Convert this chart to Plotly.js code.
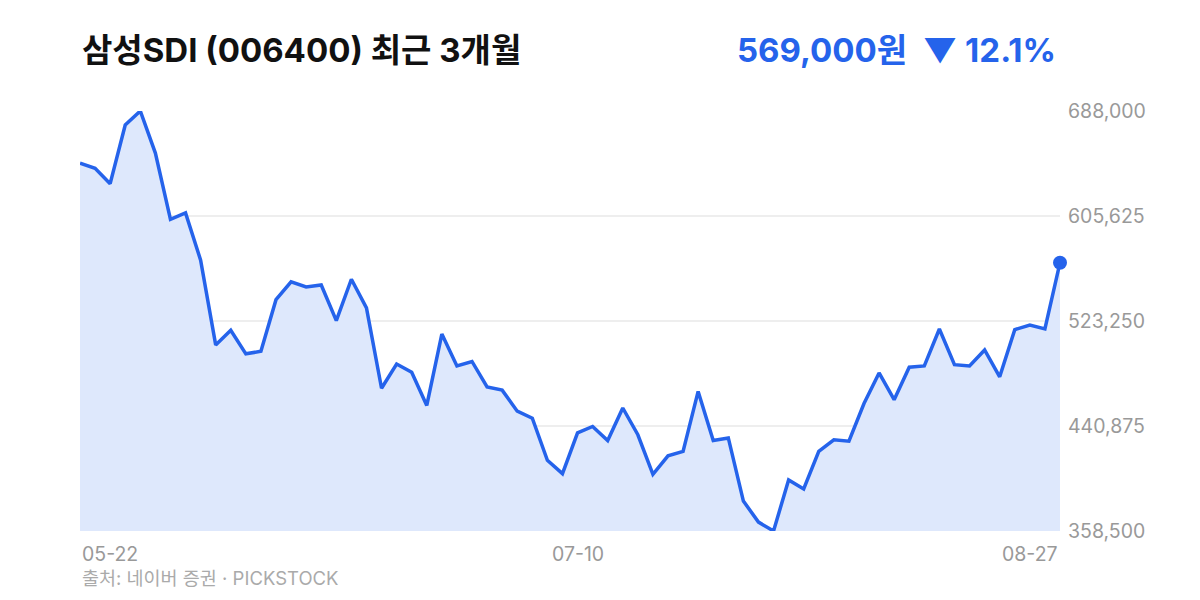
<!DOCTYPE html>
<html>
<head>
<meta charset="utf-8">
<script src="https://cdn.plot.ly/plotly-3.0.1.min.js"></script>
<style>
  html, body { margin: 0; padding: 0; background: #fff; }
  #chart { width: 1200px; height: 600px; }
</style>
</head>
<body>
<div id="chart"></div>
<script>
// Trading-day index (66 sessions, 05-22 .. 08-27)
const prices = [
  647000, 643000, 631000, 677000, 688000, 655000, 603000, 608000, 571000, 504500,
  516000, 497500, 499500, 540000, 554000, 550000, 551500, 523500, 556000, 533500,
  470500, 489500, 483000, 457000, 513000, 488000, 491500, 471500, 469000, 452500,
  447000, 414000, 403500, 435500, 440500, 429500, 455000, 434000, 403000, 417500,
  421000, 468000, 429500, 431500, 382000, 365500, 358500, 398500, 391500, 421000,
  430000, 429000, 458500, 482500, 461500, 487000, 488000, 517000, 489000, 488000,
  500500, 479500, 516500, 520000, 517000, 569000
];
const xLabels = ["05-22", "07-10", "08-27"];
const xLabelIdx = [0, 33, 65];
const yTicks = [358500, 440875, 523250, 605625, 688000];
const titleText = "삼성SDI (006400) 최근 3개월";
const priceText = "569,000원&nbsp;&nbsp;▼ 12.1%";
const sourceText = "출처: 네이버 증권 · PICKSTOCK";

const idx = prices.map((_, i) => i);
const FONT = "Inter, 'Noto Sans CJK KR', sans-serif";
const BLUE = "#2563EB";

const traces = [
  {
    x: idx, y: prices, type: "scatter", mode: "lines",
    line: { color: BLUE, width: 3.5 },
    fill: "tozeroy", fillcolor: "#DEE8FC",
    hoverinfo: "skip"
  },
  {
    x: [idx[idx.length - 1]], y: [prices[prices.length - 1]],
    type: "scatter", mode: "markers",
    marker: { color: BLUE, size: 14 },
    hoverinfo: "skip", cliponaxis: false
  }
];

const annotations = [
  { xref: "paper", yref: "paper", x: 0, y: 1.145, xanchor: "left", yanchor: "middle",
    text: "<b>" + titleText + "</b>", showarrow: false,
    font: { family: FONT, size: 33, color: "#111111", weight: 800 } },
  { xref: "paper", yref: "paper", x: 0.9975, y: 1.145, xanchor: "right", yanchor: "middle",
    text: "<b>" + priceText + "</b>", showarrow: false,
    font: { family: FONT, size: 33, color: BLUE, weight: 800 } },
  { xref: "paper", yref: "paper", x: 0, y: -0.112, xanchor: "left", yanchor: "middle",
    text: sourceText, showarrow: false,
    font: { family: FONT, size: 18.5, color: "#aaaaaa" } }
];
xLabels.forEach((lab, k) => {
  annotations.push({
    xref: "x", yref: "paper", x: xLabelIdx[k], y: -0.055,
    xanchor: k === 0 ? "left" : (k === xLabels.length - 1 ? "right" : "center"),
    yanchor: "middle", text: lab, showarrow: false,
    font: { family: FONT, size: 19.5, color: "#999999" }
  });
});

const layout = {
  width: 1200, height: 600,
  margin: { l: 80, r: 140, t: 111, b: 69 },
  paper_bgcolor: "#ffffff", plot_bgcolor: "#ffffff",
  showlegend: false,
  xaxis: {
    range: [0, prices.length - 1], showgrid: false, zeroline: false,
    showticklabels: false, showline: false, fixedrange: true
  },
  yaxis: {
    range: [yTicks[0], yTicks[yTicks.length - 1]], side: "right",
    tickvals: yTicks, ticktext: yTicks.map(v => v.toLocaleString("en-US")),
    showgrid: true, gridcolor: "#eeeeee", gridwidth: 1.5,
    zeroline: false, showline: false, ticks: "",
    ticklabelstandoff: 7,
    tickfont: { family: FONT, size: 19.5, color: "#999999" }, fixedrange: true
  },
  annotations: annotations
};

Plotly.newPlot("chart", traces, layout, { displayModeBar: false, staticPlot: true });
</script>
</body>
</html>
